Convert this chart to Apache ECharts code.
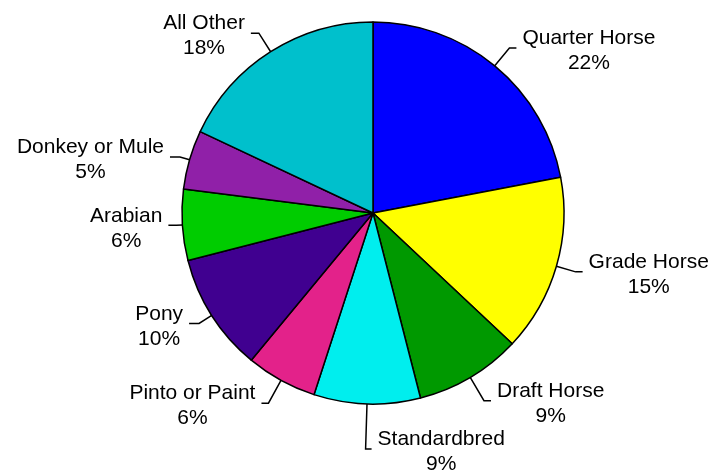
<!DOCTYPE html>
<html>
<head>
<meta charset="utf-8">
<script src="https://cdn.jsdelivr.net/npm/echarts@6/dist/echarts.min.js"></script>
<style>
html,body{margin:0;padding:0;background:#fff;}
#c{width:714px;height:475px;}
</style>
</head>
<body>
<div id="c"></div>
<script>
const categories = ['Quarter Horse','Grade Horse','Draft Horse','Standardbred','Pinto or Paint','Pony','Arabian','Donkey or Mule','All Other'];
const values = [22, 15, 9, 9, 6, 10, 6, 5, 18];
const colors = ['#0000FF','#FFFF00','#009900','#00EEEE','#E3228A','#400090','#00CC00','#9020A8','#00C0CC'];
const lineLen = [23, 20, 27, 45, 26, 15, 6, 10, 22];
const lineLen2 = [7, 7, 7, 6, 7, 10, 8, 10, 8];

const chart = echarts.init(document.getElementById('c'));
const data = categories.map((name, i) => ({
  name: name,
  value: values[i],
  itemStyle: { color: colors[i] },
  labelLine: { length: lineLen[i], length2: lineLen2[i] }
}));
const txt = { fontFamily: 'Liberation Sans, Arial, sans-serif', fontSize: 21, lineHeight: 25, color: '#000', align: 'center' };
chart.setOption({
  animation: false,
  series: [{
    type: 'pie',
    center: [373, 213],
    radius: 191,
    startAngle: 90,
    clockwise: true,
    avoidLabelOverlap: false,
    data: data,
    itemStyle: { borderColor: '#000', borderWidth: 1.5 },
    label: {
      show: true,
      position: 'outside',
      formatter: '{n|{b}}\n{n|{c}%}',
      rich: { n: txt },
      padding: [6, 0, 0, 0],
      distanceToLabelLine: 6
    },
    labelLine: { show: true, lineStyle: { color: '#000', width: 1.5 } },
    emphasis: { disabled: true },
    labelLayout: function (p) {
      if (p.dataIndex === 3 && p.labelLinePoints) {
        const pts = p.labelLinePoints;
        const x1 = pts[1][0], y1 = pts[1][1];
        const x2 = x1 + lineLen2[3];
        return {
          labelLinePoints: [pts[0], pts[1], [x2, y1]],
          x: x2 + 6,
          y: y1,
          align: 'left',
          verticalAlign: 'middle'
        };
      }
    }
  }]
});
</script>
</body>
</html>
